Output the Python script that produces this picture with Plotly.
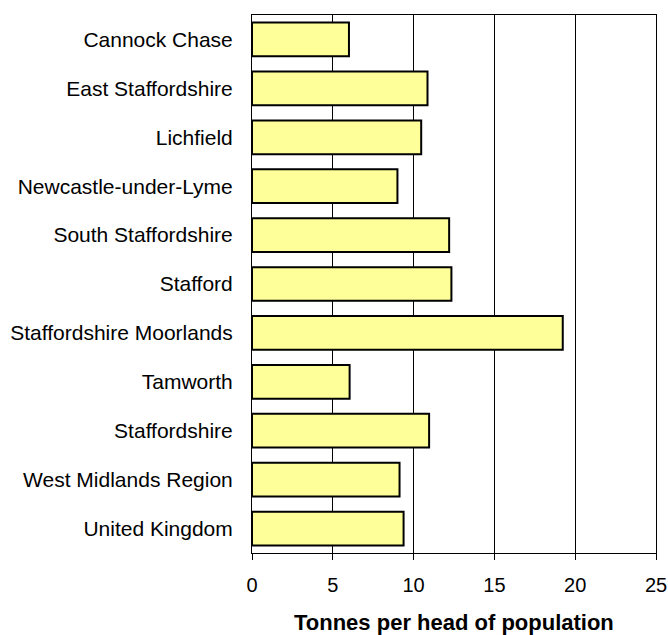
import plotly.graph_objects as go

categories = ["Cannock Chase", "East Staffordshire", "Lichfield", "Newcastle-under-Lyme",
              "South Staffordshire", "Stafford", "Staffordshire Moorlands", "Tamworth",
              "Staffordshire", "West Midlands Region", "United Kingdom"]
values = [6.0, 10.86, 10.47, 9.0, 12.2, 12.34, 19.23, 6.04, 10.96, 9.13, 9.38]
x_ticks = [0, 5, 10, 15, 20, 25]
x_title = "Tonnes per head of population"

font = "Liberation Sans, Arial, sans-serif"

fig = go.Figure(go.Bar(
    y=categories, x=values, orientation="h",
    marker=dict(color="#FFFF99", line=dict(color="black", width=2)),
))

fig.update_layout(
    width=668, height=635,
    margin=dict(l=252, r=12, t=15, b=82),
    paper_bgcolor="white", plot_bgcolor="white",
    showlegend=False, bargap=0.31,
    font=dict(family=font, size=21, color="black"),
)
fig.update_xaxes(
    range=[0, 25], tickvals=x_ticks, showgrid=True, gridcolor="black", gridwidth=1,
    showline=True, linecolor="black", linewidth=1, mirror=True,
    ticks="outside", ticklen=6, tickcolor="black", zeroline=False,
    automargin=False, ticklabelstandoff=8,
    tickfont=dict(size=20),
)
fig.update_yaxes(
    categoryorder="array", categoryarray=categories, autorange="reversed",
    showline=True, linecolor="black", linewidth=1, mirror=True,
    ticks="", ticklabelstandoff=14, tickfont=dict(size=21), automargin=False,
)
fig.add_annotation(
    text="<b>" + x_title + "</b>", xref="paper", yref="paper",
    x=0.5, y=-69 / 538, yanchor="middle", showarrow=False,
    font=dict(size=22, family=font),
)

fig.write_html("out.html", config={"displayModeBar": False},
               post_script="document.body.style.margin='0';")
